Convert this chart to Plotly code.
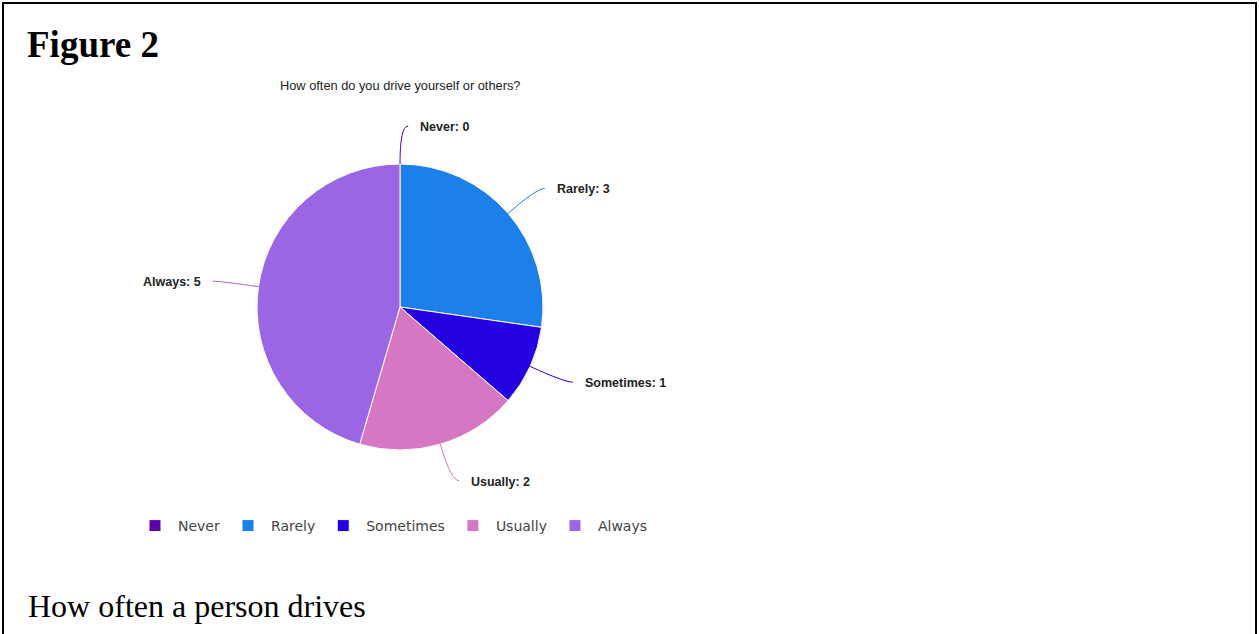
import math
import plotly.graph_objects as go

categories = ["Never", "Rarely", "Sometimes", "Usually", "Always"]
values = [0, 3, 1, 2, 5]
colors = ["#5a02a8", "#1c7fea", "#2300e0", "#d577c3", "#9b66e4"]

W, H = 1259, 634
CX, CY, R = 400, 307, 143  # pie centre / radius in page pixels


def px(x):
    return x / W


def py(y):
    return 1 - y / H


fig = go.Figure()
fig.add_trace(go.Pie(
    labels=categories, values=values, sort=False, direction="clockwise",
    rotation=0, textinfo="none", hoverinfo="label+value",
    marker=dict(colors=colors, line=dict(color="white", width=1)),
    domain=dict(x=[px(CX - R), px(CX + R)], y=[py(CY + R), py(CY - R)]),
    showlegend=True,
))

shapes = []
annotations = []
total = sum(values)
cum = 0
for cat, v, c in zip(categories, values, colors):
    mid = (cum + v / 2) / total * 2 * math.pi
    cum += v
    sx, sy = math.sin(mid), -math.cos(mid)
    x0, y0 = CX + R * sx, CY + R * sy
    cr = R + 38
    x1, y1 = CX + cr * sx, CY + cr * sy
    side = 1 if sx >= -1e-9 else -1
    x2, y2 = x1 + 8 * side, y1
    path = f"M {px(x0)},{py(y0)} Q {px(x1)},{py(y1)} {px(x2)},{py(y2)}"
    shapes.append(dict(type="path", xref="paper", yref="paper", path=path,
                       line=dict(color=c, width=1)))
    annotations.append(dict(
        x=px(x2 + 10 * side), y=py(y2 + 1), xref="paper", yref="paper",
        text=f"<b>{cat}: {v}</b>", showarrow=False,
        xanchor="left" if side > 0 else "right", yanchor="middle",
        font=dict(family="Liberation Sans, Arial", size=12.5, color="#222222")))

# frame
for x0, y0, x1, y1 in [(2, 3, 1257, 3), (3, 2, 3, 640), (1256, 2, 1256, 640)]:
    shapes.append(dict(type="line", xref="paper", yref="paper",
                       x0=px(x0), y0=py(y0), x1=px(x1), y1=py(y1),
                       line=dict(color="black", width=2)))

annotations.append(dict(x=px(25), y=py(44), xref="paper", yref="paper", text="<b>Figure 2</b>",
                        showarrow=False, xanchor="left", yanchor="middle",
                        font=dict(family="Liberation Serif, Times New Roman", size=37, color="black")))
annotations.append(dict(x=px(26), y=py(606), xref="paper", yref="paper", text="How often a person drives",
                        showarrow=False, xanchor="left", yanchor="middle",
                        font=dict(family="Liberation Serif, Times New Roman", size=32, color="black")))
annotations.append(dict(x=px(400), y=py(85), xref="paper", yref="paper",
                        text="How often do you drive yourself or others?",
                        showarrow=False, xanchor="center", yanchor="middle",
                        font=dict(family="Liberation Sans, Arial", size=12.8, color="#222222")))

fig.update_layout(
    width=W, height=H, margin=dict(l=0, r=0, t=0, b=0),
    paper_bgcolor="white", plot_bgcolor="white",
    shapes=shapes, annotations=annotations,
    legend=dict(orientation="h", x=px(132), y=py(526), xanchor="left", yanchor="middle",
                font=dict(family="DejaVu Sans", size=14, color="#444444"),
                itemwidth=36, traceorder="normal"),
)

fig.write_html("out.html", config={"displayModeBar": False},
               post_script="document.body.style.margin='0px';document.body.style.overflow='hidden';")
